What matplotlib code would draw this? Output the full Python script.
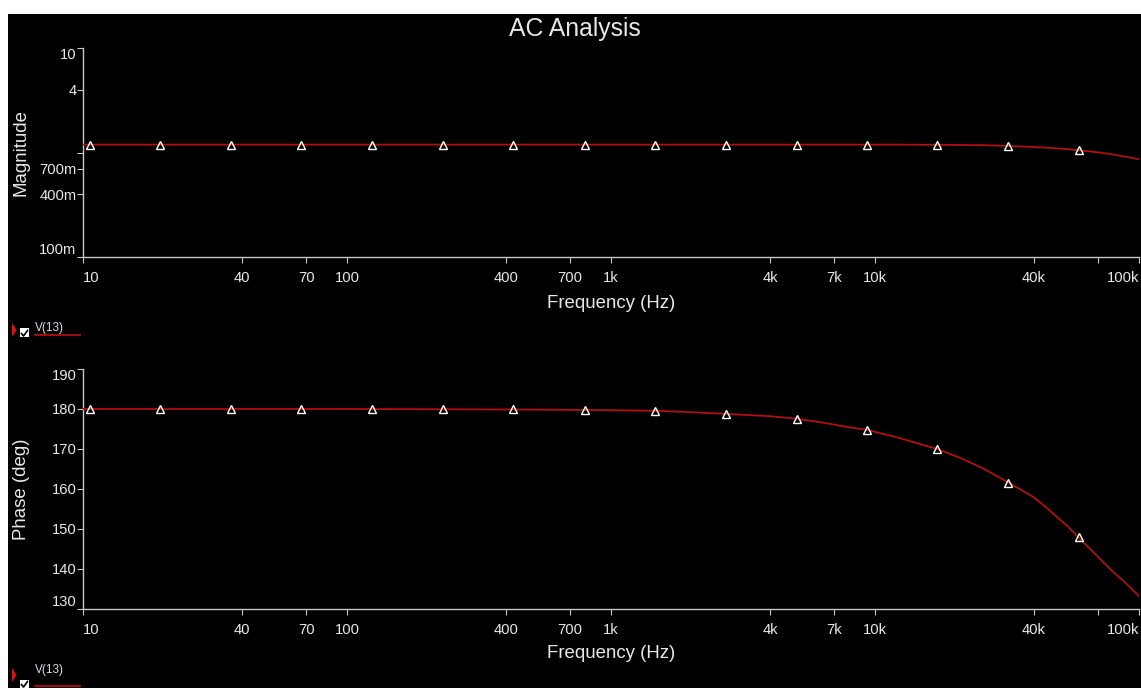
import matplotlib
matplotlib.use("Agg")
import matplotlib.pyplot as plt
from matplotlib.patches import Rectangle, Polygon
from matplotlib.lines import Line2D
from matplotlib.ticker import NullLocator

plt.rcParams['font.family'] = ['Liberation Sans', 'DejaVu Sans']

# ---------------- data ----------------
freq_hz = [10, 20, 50, 100, 200, 500, 1000, 1500, 2000, 2700, 4000, 5000,
           6500, 8000, 9300, 12000, 17200, 21000, 25600, 32000, 39600,
           44000, 48700, 54000, 59000, 66000, 73000, 80000, 87000, 94000,
           100000]
magnitude = [1.19, 1.19, 1.19, 1.19, 1.19, 1.19, 1.19, 1.19, 1.19, 1.19,
             1.19, 1.19, 1.19, 1.19, 1.19, 1.19, 1.185, 1.18, 1.175, 1.155,
             1.13, 1.115, 1.095, 1.075, 1.05, 1.02, 0.99, 0.955, 0.92, 0.89,
             0.86]
phase_deg = [180, 180, 180, 180, 179.95, 179.85, 179.7, 179.55, 179.2,
             178.8, 178.2, 177.6, 176.5, 175.4, 174.8, 173.0, 170.0, 167.8,
             165.2, 161.6, 158.1, 155.7, 153.1, 150.5, 147.9, 144.7, 141.8,
             139.2, 137.1, 135.0, 133.2]

marker_freq = [10.6, 19.6, 36.3, 66.9, 124, 231, 427, 795, 1468, 2730,
               5050, 9300, 17200, 32000, 59000]
marker_mag = [1.19, 1.19, 1.19, 1.19, 1.19, 1.19, 1.19, 1.19, 1.19, 1.19,
              1.19, 1.19, 1.185, 1.155, 1.05]
marker_phase = [180, 180, 180, 180, 180, 179.95, 179.9, 179.75, 179.55,
                178.8, 177.6, 174.8, 170.0, 161.6, 147.9]

x_ticks = [10, 40, 70, 100, 400, 700, 1000, 4000, 7000, 10000, 40000,
           70000, 100000]
x_tick_labels = ['10', '40', '70', '100', '400', '700', '1k', '4k', '7k',
                 '10k', '40k', '', '100k']
mag_ticks = [0.1, 0.4, 0.7, 1, 4, 10]
mag_tick_labels = ['100m', '400m', '700m', '', '4', '10']
phase_ticks = [130, 140, 150, 160, 170, 180, 190]
phase_tick_labels = ['130', '140', '150', '160', '170', '180', '190']

title = "AC Analysis"
x_label = "Frequency (Hz)"
series_name = "V(13)"

# ---------------- style ----------------
W, H = 1141, 688
TXT = '#E8E8E8'
SPINE = '#C8C8C8'
LINE = '#B01010'


def fx(x):
    return x / W


def fy(y):
    return 1 - y / H


fig = plt.figure(figsize=(W / 100, H / 100), dpi=100, facecolor='white')
fig.patches.append(Rectangle((fx(8), 0), 1 - fx(8), fy(14),
                             transform=fig.transFigure, facecolor='black',
                             edgecolor='none', zorder=-10))

ax1 = fig.add_axes([fx(83), fy(257), fx(1139) - fx(83), fy(48) - fy(257)])
ax2 = fig.add_axes([fx(83), fy(609), fx(1139) - fx(83), fy(369) - fy(609)])


def style_axes(ax):
    ax.set_facecolor('black')
    for s in ['top', 'right']:
        ax.spines[s].set_visible(False)
    for s in ['left', 'bottom']:
        ax.spines[s].set_color(SPINE)
        ax.spines[s].set_linewidth(1.0)
    ax.set_xscale('log')
    ax.set_xlim(10, 100000)
    ax.set_xticks(x_ticks)
    ax.set_xticklabels(x_tick_labels)
    ax.xaxis.set_minor_locator(NullLocator())
    ax.tick_params(axis='x', colors=SPINE, labelcolor=TXT, length=4,
                   width=0.8, pad=6.0, labelsize=10.6)
    ax.tick_params(axis='y', colors=SPINE, labelcolor=TXT, length=4,
                   width=0.8, pad=0.8, labelsize=10.6)
    labs = ax.get_xticklabels()
    labs[0].set_ha('left')
    labs[-1].set_ha('right')
    ax.set_xlabel(x_label, color=TXT, fontsize=13.4, va='top')


style_axes(ax1)
ax1.set_yscale('log')
ax1.set_ylim(0.1, 10)
ax1.set_yticks(mag_ticks)
ax1.set_yticklabels(mag_tick_labels)
ax1.yaxis.set_minor_locator(NullLocator())
yl = ax1.get_yticklabels()
yl[0].set_va('bottom')
yl[-1].set_va('top')
ax1.plot(freq_hz, magnitude, color=LINE, lw=1.3, zorder=3)
ax1.plot(marker_freq, marker_mag, ls='none', marker='^', ms=6,
         mfc='none', mec='white', mew=1.0, zorder=4)
ax1.set_ylabel('Magnitude', color=TXT, fontsize=13.4, va='center')
ax1.yaxis.set_label_coords(-0.0585, 0.5)
ax1.xaxis.set_label_coords(0.5, -0.182)

style_axes(ax2)
ax2.set_ylim(130, 190)
ax2.set_yticks(phase_ticks)
ax2.set_yticklabels(phase_tick_labels)
yl = ax2.get_yticklabels()
yl[0].set_va('bottom')
yl[-1].set_va('top')
ax2.plot(freq_hz, phase_deg, color=LINE, lw=1.3, zorder=3)
ax2.plot(marker_freq, marker_phase, ls='none', marker='^', ms=6,
         mfc='none', mec='white', mew=1.0, zorder=4)
ax2.set_ylabel('Phase (deg)', color=TXT, fontsize=13.4, va='center')
ax2.yaxis.set_label_coords(-0.0585, 0.5)
ax2.xaxis.set_label_coords(0.5, -0.152)

fig.text(fx(574.5), fy(36), title, color=TXT, fontsize=17.8,
         ha='center', va='baseline')


def legend_item(y_base, y_line, y_arrow_top, y_box_top):
    fig.patches.append(Polygon([(fx(12), fy(y_arrow_top)),
                                (fx(16.5), fy(y_arrow_top + 7)),
                                (fx(12), fy(y_arrow_top + 14))],
                               closed=True, transform=fig.transFigure,
                               facecolor='#E01010', edgecolor='none'))
    fig.patches.append(Rectangle((fx(20), fy(y_box_top + 9)), fx(9), 9 / H,
                                 transform=fig.transFigure,
                                 facecolor='white', edgecolor='none'))
    fig.lines.append(Line2D([fx(21.5), fx(23.5), fx(27.5)],
                            [fy(y_box_top + 5), fy(y_box_top + 7.5),
                             fy(y_box_top + 2)],
                            transform=fig.transFigure, color='black', lw=1.2))
    fig.text(fx(35), fy(y_base), series_name, color='#DCDCE8',
             fontsize=8.5, ha='left', va='baseline')
    fig.lines.append(Line2D([fx(35), fx(80)], [fy(y_line), fy(y_line)],
                            transform=fig.transFigure, color=LINE, lw=1.3))


legend_item(331.5, 335, 323, 328.5)
legend_item(672.7, 686, 668, 679.5)

fig.savefig('out.png', dpi=100, facecolor=fig.get_facecolor())
